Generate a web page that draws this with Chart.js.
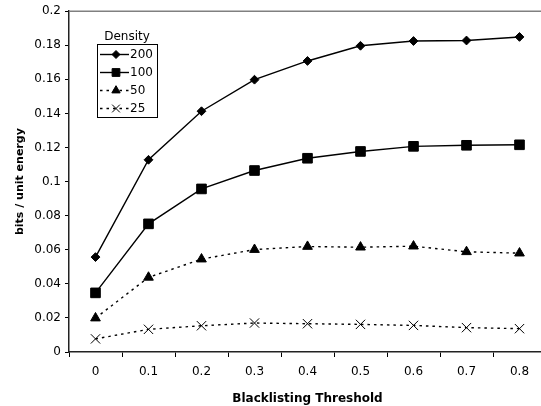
<!DOCTYPE html>
<html>
<head>
<meta charset="utf-8">
<script src="https://cdn.jsdelivr.net/npm/chart.js@4/dist/chart.umd.min.js"></script>
<style>
  html, body { margin: 0; padding: 0; background: #fff; overflow: hidden; }
  canvas { display: block; }
</style>
</head>
<body>
<canvas id="c" width="541" height="406"></canvas>
<script>
const categories = ['0', '0.1', '0.2', '0.3', '0.4', '0.5', '0.6', '0.7', '0.8'];
const seriesNames = ['200', '100', '50', '25'];
const density200 = [0.0557, 0.1128, 0.1413, 0.1598, 0.1708, 0.1797, 0.1825, 0.1828, 0.1849];
const density100 = [0.0347, 0.0752, 0.0957, 0.1065, 0.1137, 0.1177, 0.1207, 0.1213, 0.1216];
const density50  = [0.0199, 0.0438, 0.0545, 0.0601, 0.0619, 0.0615, 0.0621, 0.0588, 0.0580];
const density25  = [0.0077, 0.0133, 0.0154, 0.0170, 0.0166, 0.0162, 0.0156, 0.0143, 0.0137];
const legendTitle = 'Density';
const xTitle = 'Blacklisting Threshold';
const yTitle = 'bits / unit energy';

const FONT = 'DejaVu Sans';
const PLOT_OVERHANG = 5; // the plot frame runs a few pixels past the picture's right edge

function ds(label, data, style, radius, dashed) {
  return {
    label, data,
    borderColor: '#000',
    backgroundColor: '#000',
    borderWidth: 1.4,
    borderDash: dashed ? [2.5, 4] : [],
    pointStyle: style,
    pointRadius: radius,
    pointHoverRadius: radius,
    pointBackgroundColor: style === 'crossRot' ? 'rgba(0,0,0,0)' : '#000',
    pointBorderColor: '#000',
    pointBorderWidth: 1,
    tension: 0,
    fill: false
  };
}

const extendRight = {
  id: 'extendRight',
  afterLayout(chart) {
    const a = chart.chartArea;
    a.right += PLOT_OVERHANG;
    a.width = a.right - a.left;
    const x = chart.scales.x;
    x.right = a.right;
    x.width = x.right - x.left;
    x.configure();
    x._gridLineItems = null;
    x._labelItems = null;
  }
};

const frame = {
  id: 'frame',
  afterDatasetsDraw(chart) {
    const {ctx, chartArea: a} = chart;
    ctx.save();
    ctx.strokeStyle = '#808080';
    ctx.lineWidth = 1.5;
    ctx.beginPath();
    ctx.moveTo(a.left, a.top);
    ctx.lineTo(a.right, a.top);
    ctx.lineTo(a.right, a.bottom);
    ctx.stroke();
    ctx.restore();
  }
};

const legendBox = {
  id: 'legendBox',
  afterDraw(chart) {
    const ctx = chart.ctx;
    const bx = 97, by = 44, bw = 60, bh = 73;
    ctx.save();
    ctx.fillStyle = '#fff';
    ctx.fillRect(bx, by, bw, bh);
    ctx.strokeStyle = '#000';
    ctx.lineWidth = 1;
    ctx.strokeRect(bx + 0.5, by + 0.5, bw, bh);
    ctx.fillStyle = '#000';
    ctx.font = '12px "' + FONT + '"';
    ctx.textAlign = 'center';
    ctx.textBaseline = 'middle';
    ctx.fillText(legendTitle, bx + bw / 2, 37);
    const rows = [54.5, 72.5, 90.5, 108.5];
    const legendRadius = [4, 5.5, 4.8, 5.5];
    chart.data.datasets.forEach((d, i) => {
      const y = rows[i];
      ctx.strokeStyle = '#000';
      ctx.lineWidth = d.borderWidth;
      ctx.setLineDash(d.borderDash);
      ctx.beginPath();
      ctx.moveTo(100, y);
      ctx.lineTo(129, y);
      ctx.stroke();
      ctx.setLineDash([]);
      ctx.fillStyle = d.pointBackgroundColor;
      ctx.strokeStyle = '#000';
      ctx.lineWidth = 1;
      const mx = 116;
      if (Chart.helpers && Chart.helpers.drawPoint) {
        Chart.helpers.drawPoint(ctx, {pointStyle: d.pointStyle, radius: legendRadius[i], rotation: 0, borderWidth: 1}, mx, y);
      }
      ctx.fillStyle = '#000';
      ctx.textAlign = 'left';
      ctx.fillText(d.label, 130, y + 0.5);
    });
    ctx.restore();
  }
};

new Chart(document.getElementById('c'), {
  type: 'line',
  data: {
    labels: categories,
    datasets: [
      ds(seriesNames[0], density200, 'rectRot', 4.4, false),
      ds(seriesNames[1], density100, 'rect', 6.8, false),
      ds(seriesNames[2], density50, 'triangle', 5.6, true),
      ds(seriesNames[3], density25, 'crossRot', 6.6, true)
    ]
  },
  options: {
    responsive: false,
    animation: false,
    events: [],
    layout: { autoPadding: false, padding: { top: 9, right: 0, left: 0, bottom: 0 } },
    plugins: { legend: { display: false }, tooltip: { enabled: false } },
    scales: {
      x: {
        type: 'category',
        offset: true,
        grid: { display: true, offset: true, drawOnChartArea: false, drawTicks: true, tickLength: 5, color: '#000', lineWidth: 1 },
        border: { display: true, color: '#222', width: 1.5 },
        ticks: { color: '#000', font: { family: FONT, size: 12 }, padding: 8, maxRotation: 0, autoSkip: false },
        title: { display: true, text: xTitle, color: '#000', font: { family: FONT, size: 12, weight: 'bold' }, padding: { top: 6, bottom: 0 } },
        afterFit(s) { s.height = 54; s.paddingRight = 0; s.paddingLeft = 0; }
      },
      y: {
        min: 0, max: 0.2,
        grid: { display: true, drawOnChartArea: false, drawTicks: true, tickLength: 4, color: '#000', lineWidth: 1 },
        border: { display: true, color: '#222', width: 1.5 },
        ticks: {
          stepSize: 0.02, color: '#000', font: { family: FONT, size: 12 }, padding: 4,
          callback: v => String(+Number(v).toFixed(2))
        },
        title: { display: true, text: yTitle, color: '#000', font: { family: FONT, size: 11, weight: 'bold' }, padding: { top: 13.5, bottom: 0 } },
        afterFit(s) { s.width = 69; }
      }
    }
  },
  plugins: [extendRight, frame, legendBox]
});
</script>
</body>
</html>
